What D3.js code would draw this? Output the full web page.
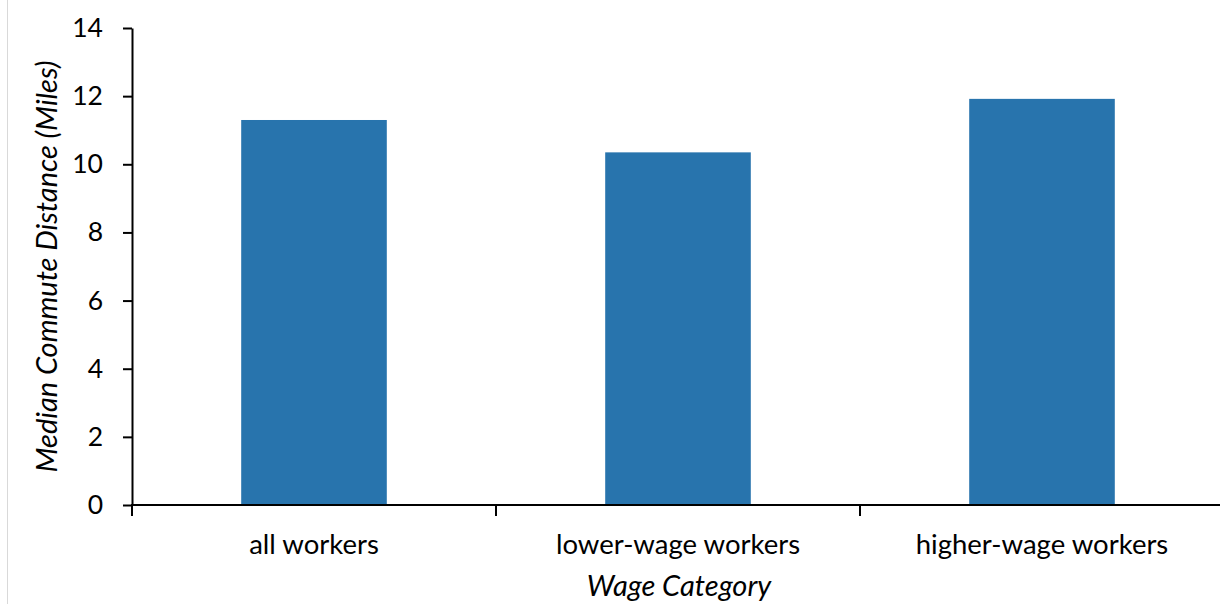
<!DOCTYPE html>
<html>
<head>
<meta charset="utf-8">
<script src="https://cdn.jsdelivr.net/npm/d3@7"></script>
<style>
  html, body { margin: 0; padding: 0; background: #fff; }
  svg { display: block; }
  text { font-family: Lato, "Open Sans", sans-serif; fill: #000; }
</style>
</head>
<body>
<svg id="chart" width="1220" height="604"></svg>
<script>
const categories = ["all workers", "lower-wage workers", "higher-wage workers"];
const values = [11.3, 10.35, 11.92];
const yTicks = [0, 2, 4, 6, 8, 10, 12, 14];
const yTitle = "Median Commute Distance (Miles)";
const xTitle = "Wage Category";

const svg = d3.select("#chart");
const W = 1220, H = 604;
const x0 = 132, x1 = 1224, yTop = 28, yBot = 505;

// frame line on the left
svg.append("line").attr("x1", 7.5).attr("x2", 7.5).attr("y1", 0).attr("y2", H)
  .attr("stroke", "#d9d9d9").attr("stroke-width", 1);

const x = d3.scaleBand().domain(categories).range([x0, x1])
  .paddingInner(0.6).paddingOuter(0.3);
const xEdges = d3.scaleBand().domain(categories).range([x0, x1]).padding(0);
const y = d3.scaleLinear().domain([0, 14]).range([yBot, yTop]);

// bars
svg.append("g").selectAll("rect").data(values).join("rect")
  .attr("x", (d, i) => x(categories[i]))
  .attr("width", x.bandwidth())
  .attr("y", d => y(d))
  .attr("height", d => y(0) - y(d))
  .attr("fill", "#2874ad");

// y axis
const yAxis = d3.axisLeft(y).tickValues(yTicks).tickSize(9).tickPadding(20).tickSizeOuter(0);
const gy = svg.append("g").attr("transform", `translate(${x0},0)`).call(yAxis);
gy.select(".domain").attr("stroke", "#000").attr("stroke-width", 2);
gy.selectAll(".tick line").attr("stroke", "#000").attr("stroke-width", 2);
gy.selectAll(".tick text").attr("font-size", 26.5).attr("font-family", "Lato, sans-serif");

// x axis: ticks at category boundaries
const boundaries = categories.map(c => xEdges(c)).concat([x1]);
const gx = svg.append("g").attr("transform", `translate(0,${yBot})`);
gx.append("line").attr("x1", x0 - 1).attr("x2", x1).attr("y1", 0).attr("y2", 0)
  .attr("stroke", "#000").attr("stroke-width", 2);
gx.selectAll("line.bt").data(boundaries).join("line").attr("class", "bt")
  .attr("x1", d => d).attr("x2", d => d).attr("y1", 0).attr("y2", 11)
  .attr("stroke", "#000").attr("stroke-width", 2);
gx.selectAll("text").data(categories).join("text")
  .attr("x", d => xEdges(d) + xEdges.bandwidth() / 2)
  .attr("y", 49)
  .attr("text-anchor", "middle")
  .attr("font-size", 27.5)
  .text(d => d);

// titles
svg.append("text")
  .attr("transform", `translate(57,${(yTop + yBot) / 2}) rotate(-90)`)
  .attr("text-anchor", "middle")
  .attr("font-size", 29).attr("font-style", "italic")
  .text(yTitle);
svg.append("text")
  .attr("x", 679).attr("y", 596)
  .attr("text-anchor", "middle")
  .attr("font-size", 29).attr("font-style", "italic")
  .text(xTitle);
</script>
</body>
</html>
